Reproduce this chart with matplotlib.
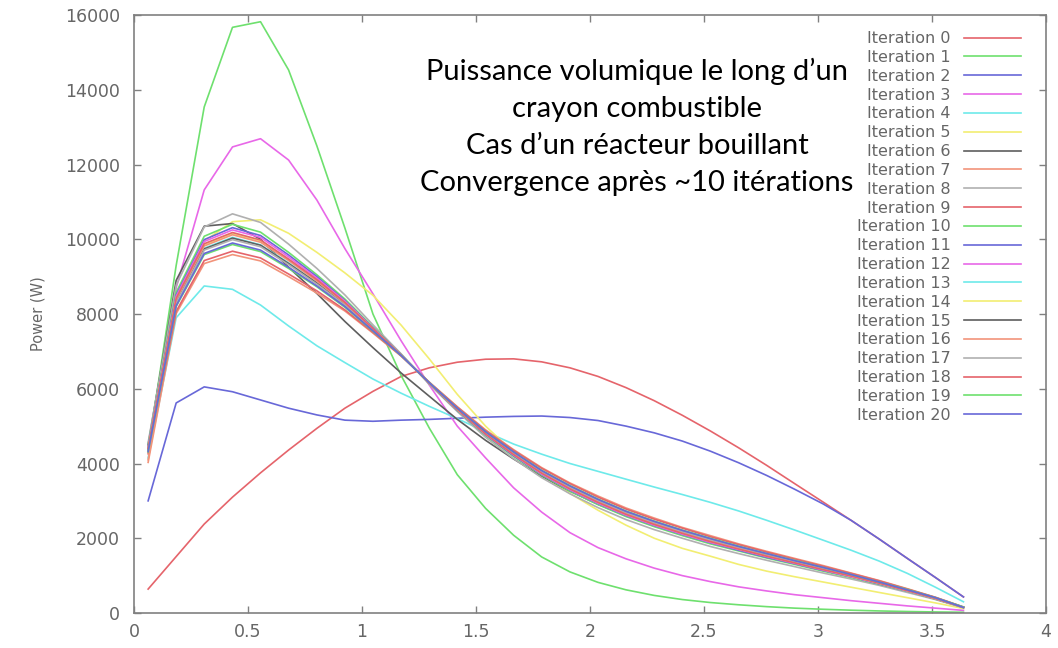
import matplotlib
matplotlib.use("Agg")
import matplotlib.pyplot as plt

# axial position along the fuel rod (cell centres)
position = [0.062, 0.185, 0.308, 0.432, 0.555, 0.678, 0.802, 0.925, 1.048, 1.172,
            1.295, 1.418, 1.542, 1.665, 1.788, 1.912, 2.035, 2.158, 2.282, 2.405,
            2.528, 2.652, 2.775, 2.898, 3.022, 3.145, 3.268, 3.392, 3.515, 3.638]

# power (W) for each iteration
iter00 = [640, 1510, 2380, 3100, 3750, 4360, 4940, 5480, 5930, 6330, 6560, 6710, 6790, 6800, 6720,
          6560, 6330, 6030, 5680, 5290, 4870, 4420, 3950, 3460, 2970, 2480, 1980, 1460, 950, 430]
iter01 = [4350, 9300, 13540, 15670, 15820, 14530, 12500, 10300, 8000, 6350, 4950, 3700, 2800, 2080, 1500,
          1100, 820, 620, 470, 360, 280, 220, 170, 130, 100, 75, 55, 40, 28, 20]
iter02 = [3000, 5620, 6050, 5920, 5700, 5480, 5300, 5160, 5130, 5160, 5180, 5210, 5240, 5260, 5270,
          5230, 5150, 5000, 4820, 4600, 4330, 4020, 3680, 3310, 2920, 2480, 1980, 1460, 950, 430]
iter03 = [4450, 8700, 11320, 12470, 12690, 12120, 11050, 9750, 8540, 7280, 6100, 5000, 4150, 3350, 2700,
          2150, 1750, 1450, 1200, 1000, 840, 700, 590, 490, 410, 330, 260, 190, 130, 70]
iter04 = [4150, 7900, 8750, 8660, 8240, 7680, 7150, 6700, 6260, 5880, 5530, 5200, 4850, 4520, 4250,
          4000, 3790, 3580, 3370, 3170, 2960, 2730, 2480, 2220, 1950, 1680, 1390, 1060, 690, 300]
iter05 = [4300, 8300, 9950, 10470, 10520, 10160, 9650, 9100, 8500, 7700, 6800, 5850, 5000, 4300, 3700,
          3200, 2750, 2350, 2000, 1730, 1520, 1300, 1120, 970, 830, 690, 550, 410, 270, 120]
iter06 = [4500, 8900, 10350, 10420, 10000, 9250, 8550, 7800, 7100, 6420, 5800, 5180, 4620, 4120, 3660,
          3260, 2910, 2600, 2330, 2100, 1890, 1700, 1510, 1330, 1150, 970, 780, 590, 380, 150]
iter07 = [4030, 8010, 9350, 9590, 9420, 9000, 8560, 8080, 7490, 6870, 6180, 5520, 4900, 4370, 3890,
          3480, 3130, 2810, 2540, 2290, 2070, 1850, 1650, 1460, 1270, 1070, 870, 650, 420, 160]
iter08 = [4560, 8770, 10330, 10680, 10450, 9870, 9220, 8510, 7710, 6930, 6120, 5390, 4700, 4130, 3620,
          3190, 2820, 2500, 2230, 2000, 1780, 1590, 1410, 1240, 1070, 910, 740, 550, 360, 140]
iter09 = [4260, 8070, 9430, 9680, 9500, 9070, 8620, 8110, 7510, 6880, 6170, 5510, 4880, 4350, 3870,
          3460, 3100, 2780, 2510, 2270, 2040, 1830, 1630, 1440, 1250, 1060, 860, 640, 420, 160]
iter10 = [4480, 8580, 10080, 10400, 10190, 9650, 9050, 8400, 7650, 6910, 6140, 5420, 4750, 4190, 3690,
          3260, 2900, 2580, 2310, 2070, 1850, 1660, 1470, 1300, 1120, 950, 770, 580, 370, 150]
iter11 = [4450, 8510, 9990, 10310, 10100, 9580, 9000, 8360, 7630, 6910, 6140, 5430, 4770, 4210, 3710,
          3290, 2930, 2610, 2340, 2100, 1880, 1680, 1490, 1320, 1140, 970, 780, 590, 380, 150]
iter12 = [4430, 8470, 9940, 10250, 10050, 9530, 8960, 8340, 7620, 6900, 6150, 5440, 4780, 4230, 3720,
          3300, 2940, 2620, 2350, 2110, 1890, 1700, 1510, 1330, 1150, 970, 790, 590, 380, 150]
iter13 = [4370, 8330, 9760, 10050, 9850, 9370, 8840, 8260, 7580, 6900, 6150, 5460, 4820, 4270, 3780,
          3360, 3000, 2680, 2410, 2170, 1950, 1740, 1550, 1370, 1190, 1010, 810, 610, 400, 150]
iter14 = [4400, 8400, 9850, 10150, 9950, 9450, 8900, 8300, 7600, 6900, 6150, 5450, 4800, 4250, 3750,
          3330, 2970, 2650, 2380, 2140, 1920, 1720, 1530, 1350, 1170, 990, 800, 600, 390, 150]
iter15 = [4360, 8320, 9740, 10030, 9840, 9350, 8830, 8250, 7580, 6890, 6160, 5460, 4820, 4280, 3780,
          3360, 3000, 2680, 2410, 2170, 1950, 1750, 1560, 1370, 1190, 1010, 810, 610, 400, 150]
iter16 = [4100, 8380, 9820, 10120, 9920, 9430, 8880, 8290, 7590, 6900, 6150, 5450, 4810, 4260, 3760,
          3340, 2980, 2660, 2390, 2150, 1930, 1730, 1540, 1360, 1180, 990, 800, 600, 390, 150]
iter17 = [4350, 8290, 9710, 9990, 9800, 9320, 8800, 8240, 7570, 6890, 6160, 5470, 4830, 4290, 3790,
          3370, 3010, 2690, 2420, 2180, 1960, 1760, 1570, 1380, 1200, 1010, 820, 610, 400, 150]
iter18 = [4410, 8420, 9880, 10180, 9980, 9470, 8920, 8310, 7610, 6900, 6150, 5450, 4790, 4240, 3740,
          3320, 2960, 2640, 2370, 2130, 1910, 1710, 1520, 1340, 1160, 990, 800, 600, 390, 150]
iter19 = [4310, 8200, 9590, 9860, 9670, 9220, 8730, 8180, 7540, 6890, 6160, 5480, 4850, 4310, 3820,
          3410, 3050, 2730, 2460, 2220, 2000, 1790, 1590, 1410, 1220, 1030, 830, 630, 410, 160]
iter20 = [4320, 8220, 9620, 9900, 9710, 9250, 8750, 8200, 7550, 6890, 6160, 5480, 4850, 4310, 3810,
          3400, 3040, 2720, 2450, 2210, 1990, 1780, 1590, 1400, 1220, 1030, 830, 620, 410, 150]

iterations = [iter00, iter01, iter02, iter03, iter04, iter05, iter06, iter07, iter08, iter09, iter10,
              iter11, iter12, iter13, iter14, iter15, iter16, iter17, iter18, iter19, iter20]

# gnuplot-like colour cycle, washed out as in the screenshot
palette = ['#e5646b', '#6ee06e', '#6868d8', '#e868e8', '#6eeaea', '#f2ee72',
           '#5e5e5e', '#f2937a', '#b0b0b0']

title_text = ("Puissance volumique le long d\u2019un\ncrayon combustible\n"
              "Cas d\u2019un r\u00e9acteur bouillant\nConvergence apr\u00e8s ~10 it\u00e9rations")

grey = '#666666'

fig = plt.figure(figsize=(10.58, 6.48), dpi=100)
ax = fig.add_axes([0.12665, 0.05401, 0.86200, 0.92284])

for i, values in enumerate(iterations):
    ax.plot(position, values, color=palette[i % len(palette)], lw=1.2,
            label=f'Iteration {i}')

ax.set_xlim(0, 4)
ax.set_ylim(0, 16000)
ax.set_xticks([0, 0.5, 1, 1.5, 2, 2.5, 3, 3.5, 4])
ax.set_xticklabels(['0', '0.5', '1', '1.5', '2', '2.5', '3', '3.5', '4'])
ax.set_yticks(range(0, 16001, 2000))

for side in ax.spines.values():
    side.set_color('#808080')
    side.set_linewidth(1.2)
ax.tick_params(direction='in', length=5, width=1.0, color='#808080',
               labelcolor=grey, labelsize=12.5, top=True, right=True)
ax.tick_params(axis='x', pad=7)
ax.tick_params(axis='y', pad=10)

ax.set_ylabel('Power (W)', color=grey, fontsize=10.5, labelpad=14)

leg = ax.legend(loc='upper right', bbox_to_anchor=(0.9726, 0.973), frameon=False,
                markerfirst=False, fontsize=11.5, labelcolor=grey,
                handlelength=3.6, handletextpad=0.8, labelspacing=0.24,
                borderpad=0, borderaxespad=0)

ax.text(0.5515, 0.8135, title_text, transform=ax.transAxes, ha='center', va='center',
        multialignment='center', fontsize=21, family='Lato', color='black',
        linespacing=1.52)

fig.savefig('out.png', dpi=100)
